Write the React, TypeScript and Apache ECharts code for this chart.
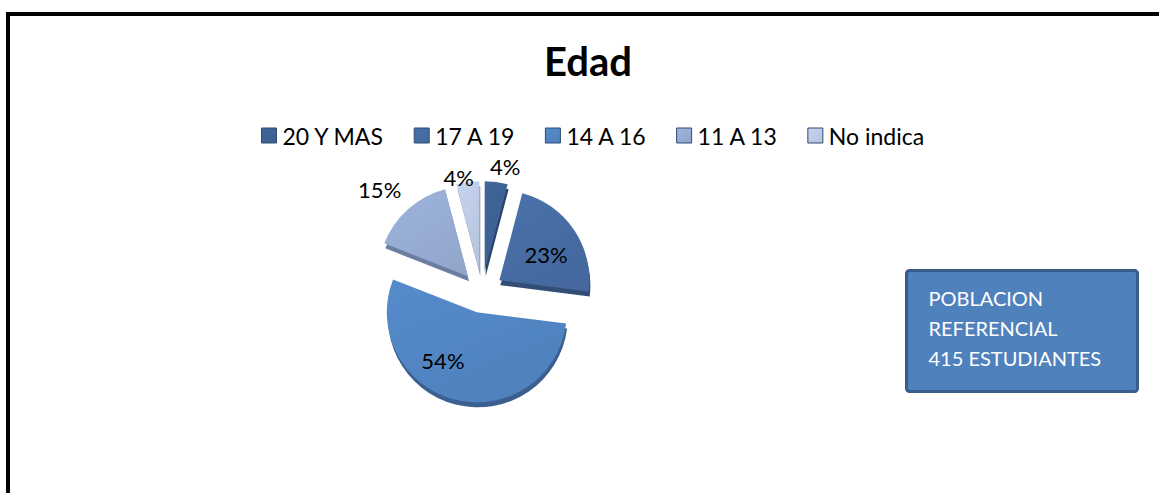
import React, { useEffect, useRef } from "react";
import * as echarts from "echarts";

const categories = ["20 Y MAS", "17 A 19", "14 A 16", "11 A 13", "No indica"];
const counts = [17, 95, 224, 62, 17];
const colors = ["#3B5F8F", "#44699E", "#4F81BD", "#93A7CD", "#B8C5DF"];
const edgeColors = ["#2A4569", "#304D76", "#3A6190", "#6C7FA3", "#8C9AB5"];
const labelPositions = ["outside", "inside", "inside", "outside", "outside"];
const labelShifts: number[][] = [[-12, -9], [7, 1], [-22, 2], [2, -15], [12, 2]];
const titleText = "Edad";
const boxLines = ["POBLACION", "REFERENCIAL", "415 ESTUDIANTES"];

const FONT = "Lato, 'Open Sans', sans-serif";

export default function App() {
  const ref = useRef<HTMLDivElement>(null);
  useEffect(() => {
    if (!ref.current) return;
    const chart = echarts.init(ref.current, undefined, { renderer: "svg" });
    const data = categories.map((name, i) => ({
      name,
      value: counts[i],
      selected: true,
      itemStyle: {
        color: {
          type: "linear",
          x: 0,
          y: 0,
          x2: 0.6,
          y2: 1,
          colorStops: [
            { offset: 0, color: echarts.color.lift(colors[i], -0.08) },
            { offset: 1, color: colors[i] },
          ],
        },
        shadowColor: edgeColors[i],
        shadowOffsetY: 5,
        shadowOffsetX: 1,
        shadowBlur: 0,
      },
      label: {
        position: labelPositions[i],
      },
    }));
    chart.setOption({
      animation: false,
      backgroundColor: "#ffffff",
      title: {
        text: titleText,
        left: 583,
        textAlign: "center",
        top: 36,
        textStyle: { fontFamily: FONT, fontWeight: "bold", fontSize: 40, color: "#000" },
      },
      legend: {
        data: categories,
        left: 256,
        top: 119,
        width: 900,
        orient: "horizontal",
        icon: "rect",
        itemWidth: 15,
        itemHeight: 15,
        itemGap: 29,
        selectedMode: false,
        textStyle: { fontFamily: FONT, fontSize: 23, color: "#000", padding: [0, 0, 0, 1] },
        itemStyle: { borderColor: "#2F4B74", borderWidth: 1 },
      },
      series: [
        {
          type: "pie",
          center: [482, 292],
          radius: [0, 90],
          startAngle: 90,
          clockwise: true,
          selectedMode: "multiple",
          selectedOffset: 21,
          avoidLabelOverlap: false,
          label: {
            show: true,
            formatter: (p: any) => Math.round(p.percent) + "%",
            fontFamily: FONT,
            fontSize: 22,
            color: "#000",
          },
          labelLine: { show: false, length: 6, length2: 0 },
          labelLayout: (p: any) => ({ dx: labelShifts[p.dataIndex][0], dy: labelShifts[p.dataIndex][1] }),
          emphasis: { disabled: true },
          data,
        },
      ],
      graphic: [
        { type: "rect", shape: { x: 6, y: 12, width: 1153, height: 4 }, style: { fill: "#000" } },
        { type: "rect", shape: { x: 6, y: 12, width: 4, height: 481 }, style: { fill: "#000" } },
        {
          type: "group",
          left: 905,
          top: 269,
          children: [
            {
              type: "rect",
              shape: { x: 0, y: 0, width: 231, height: 121, r: 3 },
              style: { fill: "#4F81BD", stroke: "#385D8A", lineWidth: 3 },
            },
            ...boxLines.map((t, i) => ({
              type: "text",
              x: 22,
              y: 17 + i * 30,
              style: { text: t, fill: "#fff", font: "20px " + FONT },
            })),
          ],
        },
      ],
    });
    return () => chart.dispose();
  }, []);
  return (
    <div
      ref={ref}
      style={{ position: "absolute", left: 0, top: 0, width: 1159, height: 493 }}
    />
  );
}
